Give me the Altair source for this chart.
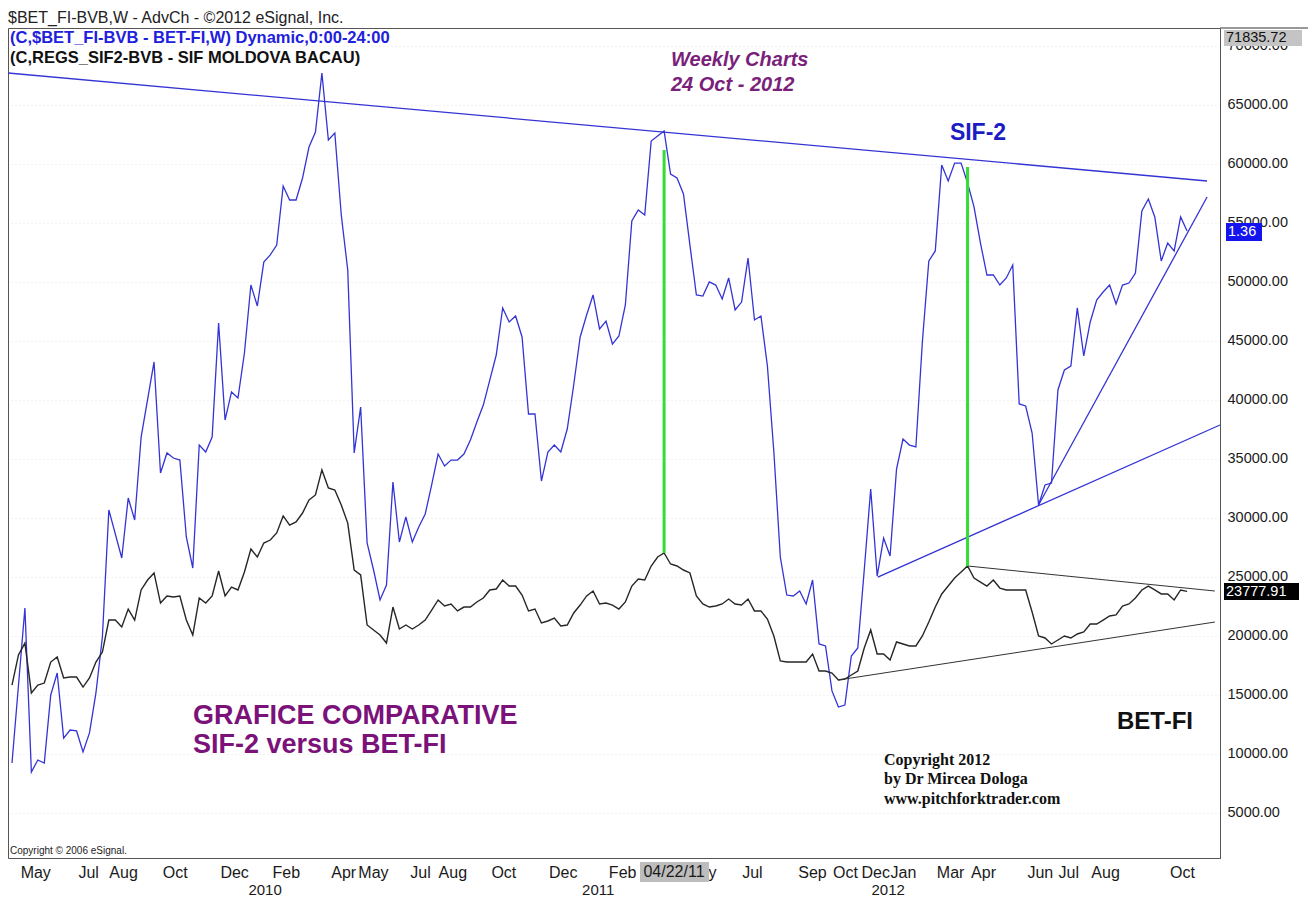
import json
import altair as alt
import pandas as pd

# ---------------- data (weekly bars, index 0 = first bar) ----------------
blue_weeks = [0] + list(range(2, 16)) + list(range(17, 21)) + list(range(22, 183))
blue_values = [
    9230,
    22370, 8470, 9490, 9230, 15000, 16860, 11350, 12030, 11950, 10170, 11780, 15170, 19910, 30680,
    26610, 31690, 29830, 36860,
    43220, 33810, 35510, 35080, 34910, 28390, 25760, 36180, 35590, 36860,
    46520, 38300, 40680, 40170, 43980, 49740, 47970, 51690, 52290, 53130,
    58130, 56950, 56950, 58810, 61440, 62710, 67710, 62030, 62630, 55680,
    51020, 35510, 39400, 27880, 25590, 23050, 24320, 33050, 27960, 30080,
    27960, 29240, 30340, 32800, 35420, 34410, 34910, 34910, 35420, 36610,
    38130, 39570, 41690, 43810, 47800, 46610, 47120, 45340, 38810, 38810,
    33130, 35590, 36180, 35590, 37540, 41270, 45340, 47200, 48900, 46020,
    46690, 44740, 45420, 48050, 55170, 56100, 55680, 61950, 62370, 62800,
    59150, 58810, 57460, 53130, 48900, 48810, 50000, 49740, 48560, 50340,
    47630, 48300, 52030, 46780, 47120, 42880, 35590, 26690, 23470, 23390,
    23810, 22710, 24740, 19320, 19150, 15340, 13980, 14150, 18300, 18980,
    25590, 32460, 25080, 28300, 26780, 34150, 36690, 36180, 36020, 44910,
    51780, 52630, 59910, 58560, 60080, 60080, 58390, 56360, 53300, 50590,
    50590, 49740, 50340, 51440, 39660, 39490, 37200, 31100, 32800, 32960,
    40850, 42540, 42880, 47800, 43730, 46610, 48470, 49150, 49740, 48130,
    49740, 49910, 50760, 56020, 57030, 55510, 51780, 53300, 52630, 55510,
    54320,
]

black_weeks = list(range(0, 183))
black_values = [
    15840, 18390, 19400, 15170, 15840, 16010, 17790, 18220, 16440, 16520,
    16520, 15670, 16440, 17790, 18640, 21350, 21350, 20760, 22280, 21350,
    23900, 24740, 25340, 22790, 23390, 23300, 23390, 21350, 20080, 23220,
    22790, 23390, 25510, 23390, 24150, 23900, 25420, 27370, 26690, 27880,
    28130, 28730, 30170, 29400, 29660, 30420, 31520, 31950, 34070, 32540,
    32370, 31100, 29570, 25590, 25170, 20930, 20510, 20080, 19400, 22450,
    20590, 20930, 20590, 20930, 21350, 22200, 23050, 22540, 22710, 22120,
    22450, 22450, 22880, 23220, 23900, 23980, 24740, 24230, 24230, 23470,
    22120, 22280, 21100, 21270, 21520, 20840, 20930, 21950, 22620, 23390,
    23810, 22710, 22790, 22620, 22280, 22880, 24230, 24830, 24740, 25930,
    26690, 27030, 26100, 25930, 25590, 25340, 23390, 22710, 22450, 22540,
    22710, 23130, 22710, 22620, 23130, 22120, 22120, 21440, 20000, 17880,
    17790, 17790, 17790, 17790, 18470, 17030, 17030, 16860, 16270, 16350,
    16690, 17030, 18980, 20510, 18470, 18470, 17960, 19490, 19320, 19150,
    19150, 20000, 21180, 22450, 23560, 24230, 24910, 25420, 25930, 24910,
    24570, 24230, 24740, 24060, 23900, 23900, 23900, 23900, 22030, 20000,
    19830, 19320, 19660, 20000, 19830, 20170, 20340, 21010, 21010, 21350,
    21690, 21780, 22540, 22710, 23220, 23900, 24230, 23900, 23560, 23560,
    23050, 23900, 23778,
]

# drawn trend lines (week, value) -> (week2, value2)
trend_x = [-0.62, 159.0, 134.1]
trend_y = [67710, 31100, 24990]
trend_x2 = [185.1, 185.1, 187.1]
trend_y2 = [58560, 57200, 37880]

black_trend_x = [148.0, 128.0]
black_trend_y = [25930, 16270]
black_trend_x2 = [186.3, 186.3]
black_trend_y2 = [23810, 21180]

green_week = [101, 148]
green_top = [61190, 59750]
green_bottom = [27030, 25930]

month_names = ["May", "Jul", "Aug", "Oct", "Dec", "Feb", "Apr", "May", "Jul", "Aug",
               "Oct", "Dec", "Feb", "May", "Jul", "Sep", "Oct", "Dec", "Jan", "Mar",
               "Apr", "Jun", "Jul", "Aug", "Oct"]
month_pos = [3.6, 11.8, 17.2, 25.2, 34.4, 42.4, 51.3, 55.9, 63.2, 68.2,
             76.1, 85.3, 94.5, 106.7, 114.6, 123.9, 129.0, 133.7, 138.0, 145.3,
             150.4, 159.2, 163.6, 169.3, 181.2]
year_names = ["2010", "2011", "2012"]
year_pos = [39.2, 90.8, 135.7]
y_ticks = [5000, 10000, 15000, 20000, 25000, 30000, 35000, 40000,
           45000, 50000, 55000, 60000, 65000, 70000]

# ---------------- chart ----------------
W, H = 1212, 830
BLUE = "#3434d6"
FONT = "Liberation Sans"

xs = alt.Scale(domain=[-0.62, 187.1], nice=False, zero=False)
ys = alt.Scale(domain=[1183, 71525], nice=False, zero=False)

label_expr = (f"indexof({json.dumps(month_pos)}, datum.value) >= 0 ? "
              f"{json.dumps(month_names)}[indexof({json.dumps(month_pos)}, datum.value)] : ''")

x_axis = alt.Axis(values=month_pos, labelExpr=label_expr, ticks=False, domain=False,
                  grid=False, title=None, labelFontSize=16, labelFont=FONT,
                  labelColor="#1a1a1a", labelPadding=6, labelOverlap=False,
                  labelFlush=False)
y_axis = alt.Axis(orient="right", values=y_ticks, format=".2f", ticks=False,
                  domain=True, domainColor="#555555", grid=True, gridColor="#e4e4e4",
                  gridDash=[1, 3], title=None, labelFontSize=14.5, labelFont=FONT,
                  labelColor="#1a1a1a", labelPadding=7, labelOverlap=False,
                  labelFlush=False)

X = lambda f: alt.X(f, scale=xs, axis=x_axis)
Y = lambda f: alt.Y(f, scale=ys, axis=y_axis)

blue_df = pd.DataFrame({"week": blue_weeks, "value": blue_values})
black_df = pd.DataFrame({"week": black_weeks, "value": black_values})

blue_line = alt.Chart(blue_df).mark_line(color=BLUE, strokeWidth=1.3).encode(
    x=X("week:Q"), y=Y("value:Q"))
black_line = alt.Chart(black_df).mark_line(color="#262626", strokeWidth=1.4).encode(
    x=X("week:Q"), y=Y("value:Q"))

tr_df = pd.DataFrame({"x": trend_x, "y": trend_y, "x2": trend_x2, "y2": trend_y2})
blue_trends = alt.Chart(tr_df).mark_rule(color=BLUE, strokeWidth=1.3).encode(
    x=X("x:Q"), y=Y("y:Q"), x2="x2:Q", y2="y2:Q")
btr_df = pd.DataFrame({"x": black_trend_x, "y": black_trend_y,
                       "x2": black_trend_x2, "y2": black_trend_y2})
black_trends = alt.Chart(btr_df).mark_rule(color="#333333", strokeWidth=1).encode(
    x=X("x:Q"), y=Y("y:Q"), x2="x2:Q", y2="y2:Q")
g_df = pd.DataFrame({"x": green_week, "y": green_top, "y2": green_bottom})
green = alt.Chart(g_df).mark_rule(color="#33dd33", strokeWidth=3).encode(
    x=X("x:Q"), y=Y("y:Q"), y2="y2:Q")

one = pd.DataFrame({"a": [0]})


def text(t, x, y, size, color="#1a1a1a", weight="normal", style="normal",
         align="left", font=FONT):
    return alt.Chart(one).mark_text(
        text=t, align=align, baseline="middle", fontSize=size, color=color,
        fontWeight=weight, fontStyle=style, font=font,
    ).encode(x=alt.value(x), y=alt.value(y))


def box(x1, x2, y1, y2, color):
    return alt.Chart(one).mark_rect(color=color).encode(
        x=alt.value(x1), x2=alt.value(x2), y=alt.value(y1), y2=alt.value(y2))


top_rule = alt.Chart(one).mark_rule(color="#777777", strokeWidth=1.5).encode(
    x=alt.value(W), x2=alt.value(W + 88), y=alt.value(0))

yr_df = pd.DataFrame({"x": year_pos, "t": year_names})
years = alt.Chart(yr_df).mark_text(fontSize=15, font=FONT, color="#1a1a1a",
                                   baseline="middle").encode(
    x=X("x:Q"), y=alt.value(H + 32), text="t:N")

PURPLE = "#7a127a"
SERIF = "Liberation Serif"
annotations = [
    text("$BET_FI-BVB,W - AdvCh - \u00a92012 eSignal, Inc.", 0, -10, 16, "#222222"),
    text("(C,$BET_FI-BVB - BET-FI,W) Dynamic,0:00-24:00", 2, 10, 16.5, "#2020dd", "bold"),
    text("(C,REGS_SIF2-BVB - SIF MOLDOVA BACAU)", 2, 30, 16.5, "#111111", "bold"),
    text("Weekly Charts", 663, 32, 20, "#7a1f7a", "bold", "italic"),
    text("24 Oct - 2012", 663, 57, 20, "#7a1f7a", "bold", "italic"),
    text("SIF-2", 970, 105, 23, "#1c1cc4", "bold", align="center"),
    text("GRAFICE COMPARATIVE", 185, 688, 27, PURPLE, "bold"),
    text("SIF-2 versus BET-FI", 185, 717, 27, PURPLE, "bold"),
    text("BET-FI", 1109, 694, 24, "#111111", "bold"),
    text("Copyright 2012", 876, 732, 16, "#111111", "bold", font=SERIF),
    text("by Dr Mircea Dologa", 876, 751, 16, "#111111", "bold", font=SERIF),
    text("www.pitchforktrader.com", 876, 771, 16, "#111111", "bold", font=SERIF),
    text("Copyright \u00a9 2006 eSignal.", 2, 823, 10, "#222222"),
    # price flags on the right scale
    box(1216, 1294, 2, 18, "#c4c4c4"),
    text("71835.72", 1218, 10, 14.5, "#111111"),
    box(1218, 1254, 195, 213, "#1414ee"),
    text("1.36", 1220, 204, 14.5, "#ffffff"),
    box(1216, 1291, 555, 572, "#000000"),
    text("23777.91", 1218, 564, 14.5, "#ffffff"),
    # cursor date flag on the time scale
    box(632, 701, 834, 854, "#bdbdbd"),
    text("04/22/11", 666, 844, 16, "#1a1a1a", align="center"),
]

chart = alt.layer(
    blue_line, black_line, blue_trends, black_trends, green, years, top_rule,
    *annotations
).properties(
    width=W, height=H,
    autosize=alt.AutoSizeParams(type="none"),
    padding={"left": 0, "top": 20, "right": 88, "bottom": 40},
    background="white",
).configure_view(stroke="#555555", strokeWidth=1)

chart.save("out.html", embed_options={"renderer": "svg", "actions": False})
